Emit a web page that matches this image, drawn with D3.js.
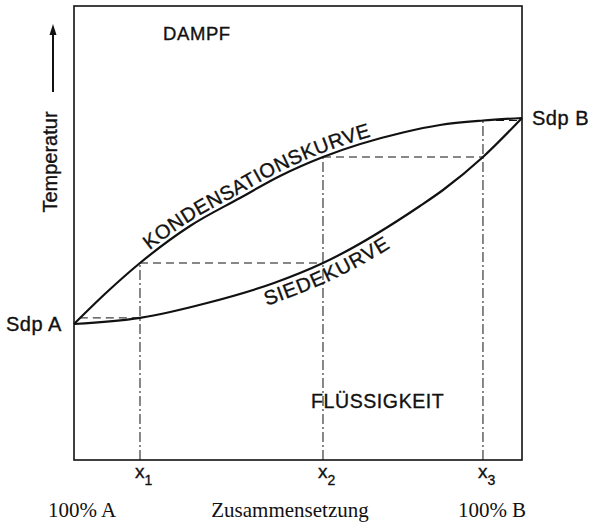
<!DOCTYPE html>
<html>
<head>
<meta charset="utf-8">
<script src="https://cdn.jsdelivr.net/npm/d3@7"></script>
<style>
  html, body { margin: 0; padding: 0; background: #fff; }
  svg { display: block; }
  .sans { font-family: "Liberation Sans", Arial, Helvetica, sans-serif; fill: #111; stroke: #111; stroke-width: 0.35px; }
  .serif { font-family: "Liberation Serif", "Times New Roman", serif; fill: #111; }
</style>
</head>
<body>
<svg id="chart" width="594" height="527"></svg>
<script>
// Boiling-point diagram of a binary mixture A/B (composition in % B, temperature in arbitrary units)

// Condensation (dew) curve
const dewComposition = [0, 7.37, 14.73, 25.89, 37.05, 45.98, 55.58, 73.44, 81.70, 91.29, 100];
const dewTemp        = [29.96, 37.0, 43.39, 51.54, 57.71, 62.56, 66.74, 72.14, 73.79, 74.78, 75.33];

// Boiling curve
const boilComposition = [0, 14.73, 29.69, 44.64, 55.58, 77.23, 82.37, 91.29, 100];
const boilTemp        = [29.96, 31.3, 34.58, 38.99, 43.39, 55.95, 59.47, 66.74, 75.33];

// Tie lines: temperature, vapour composition, liquid composition
const tieTemp   = [31.3, 43.39, 66.74, 74.78];
const tieVapour = [1.3, 14.73, 55.58, 91.29];
const tieLiquid = [14.73, 55.58, 91.29, 99.3];

// Marked compositions x1..x3 and the dew temperature reached above each
const markComposition = [14.73, 55.58, 91.29];
const markTemp        = [43.39, 66.74, 74.78];
const markIndex       = ["1", "2", "3"];

const svg = d3.select("#chart");
const x = d3.scaleLinear().domain([0, 100]).range([74, 522]);
const y = d3.scaleLinear().domain([0, 100]).range([460, 6]);
const ink = "#111";

const line = d3.line()
  .x(d => x(d[0]))
  .y(d => y(d[1]))
  .curve(d3.curveMonotoneX);

const dew = d3.zip(dewComposition, dewTemp);
const boil = d3.zip(boilComposition, boilTemp);

// Frame
svg.append("rect")
  .attr("x", x(0)).attr("y", y(100))
  .attr("width", x(100) - x(0)).attr("height", y(0) - y(100))
  .attr("fill", "none").attr("stroke", ink).attr("stroke-width", 1.6);

// Vertical construction lines at x1..x3
svg.selectAll(".mark")
  .data(d3.zip(markComposition, markTemp))
  .join("line")
  .attr("x1", d => x(d[0])).attr("x2", d => x(d[0]))
  .attr("y1", y(0)).attr("y2", d => y(d[1]))
  .attr("stroke", ink).attr("stroke-width", 1)
  .attr("stroke-dasharray", "10,3,2,3");

// Horizontal tie lines
svg.selectAll(".tie")
  .data(d3.zip(tieTemp, tieVapour, tieLiquid))
  .join("line")
  .attr("x1", d => x(d[1])).attr("x2", d => x(d[2]))
  .attr("y1", d => y(d[0])).attr("y2", d => y(d[0]))
  .attr("stroke", ink).attr("stroke-width", 1)
  .attr("stroke-dasharray", "8,5");

// Curves
const dewPath = svg.append("path")
  .attr("id", "dewCurve")
  .attr("d", line(dew))
  .attr("fill", "none").attr("stroke", ink).attr("stroke-width", 2.2);

const boilPath = svg.append("path")
  .attr("id", "boilCurve")
  .attr("d", line(boil))
  .attr("fill", "none").attr("stroke", ink).attr("stroke-width", 2.2);

// Arc length along a path where it reaches a given composition
function lengthAt(pathNode, comp) {
  const target = x(comp);
  const total = pathNode.getTotalLength();
  let lo = 0, hi = total;
  for (let i = 0; i < 40; i++) {
    const mid = (lo + hi) / 2;
    if (pathNode.getPointAtLength(mid).x < target) lo = mid; else hi = mid;
  }
  return (lo + hi) / 2;
}

// Curve labels
svg.append("text").attr("class", "sans")
  .style("font-size", "20px").style("letter-spacing", "0.5px")
  .attr("dy", -4)
  .append("textPath")
  .attr("href", "#dewCurve")
  .attr("text-anchor", "middle")
  .attr("startOffset", lengthAt(dewPath.node(), 41))
  .text("KONDENSATIONSKURVE");

svg.append("text").attr("class", "sans")
  .style("font-size", "20px").style("letter-spacing", "0.5px")
  .attr("dy", 19)
  .append("textPath")
  .attr("href", "#boilCurve")
  .attr("text-anchor", "middle")
  .attr("startOffset", lengthAt(boilPath.node(), 55.5))
  .text("SIEDEKURVE");

// Region labels
svg.append("text").attr("class", "sans")
  .attr("x", 163).attr("y", 40)
  .style("font-size", "18.5px").style("letter-spacing", "0.6px")
  .text("DAMPF");

svg.append("text").attr("class", "sans")
  .attr("x", 311).attr("y", 408)
  .style("font-size", "19.5px").style("letter-spacing", "0.6px")
  .text("FLÜSSIGKEIT");

// Boiling points of the pure components
svg.append("text").attr("class", "sans")
  .attr("x", 6).attr("y", y(dewTemp[0])).attr("dy", "0.36em")
  .style("font-size", "20px").style("letter-spacing", "0.5px")
  .text("Sdp A");

svg.append("text").attr("class", "sans")
  .attr("x", 532).attr("y", y(dewTemp[dewTemp.length - 1])).attr("dy", "0.36em")
  .style("font-size", "20px").style("letter-spacing", "0.5px")
  .text("Sdp B");

// Temperature axis title with arrow
svg.append("text").attr("class", "sans")
  .attr("transform", "translate(57,162) rotate(-90)")
  .attr("text-anchor", "middle")
  .style("font-size", "20px")
  .text("Temperatur");

svg.append("line")
  .attr("x1", 53).attr("x2", 53).attr("y1", 92).attr("y2", 34)
  .attr("stroke", ink).attr("stroke-width", 2);
svg.append("path")
  .attr("d", "M53,24 L49.5,35 L56.5,35 Z")
  .attr("fill", ink);

// Composition labels x1..x3
const marks = svg.selectAll(".mlabel")
  .data(d3.zip(markComposition, markIndex))
  .join("text").attr("class", "sans")
  .attr("x", d => x(d[0]) - 5).attr("y", 478)
  .style("font-size", "19px");
marks.append("tspan").text("x");
marks.append("tspan").attr("dy", 7).style("font-size", "14px").text(d => d[1]);

// Composition axis
svg.append("text").attr("class", "serif")
  .attr("x", 82).attr("y", 517).attr("text-anchor", "middle")
  .style("font-size", "21px")
  .text("100% A");
svg.append("text").attr("class", "serif")
  .attr("x", 290).attr("y", 517).attr("text-anchor", "middle")
  .style("font-size", "21px")
  .text("Zusammensetzung");
svg.append("text").attr("class", "serif")
  .attr("x", 492).attr("y", 517).attr("text-anchor", "middle")
  .style("font-size", "21px")
  .text("100% B");
</script>
</body>
</html>
